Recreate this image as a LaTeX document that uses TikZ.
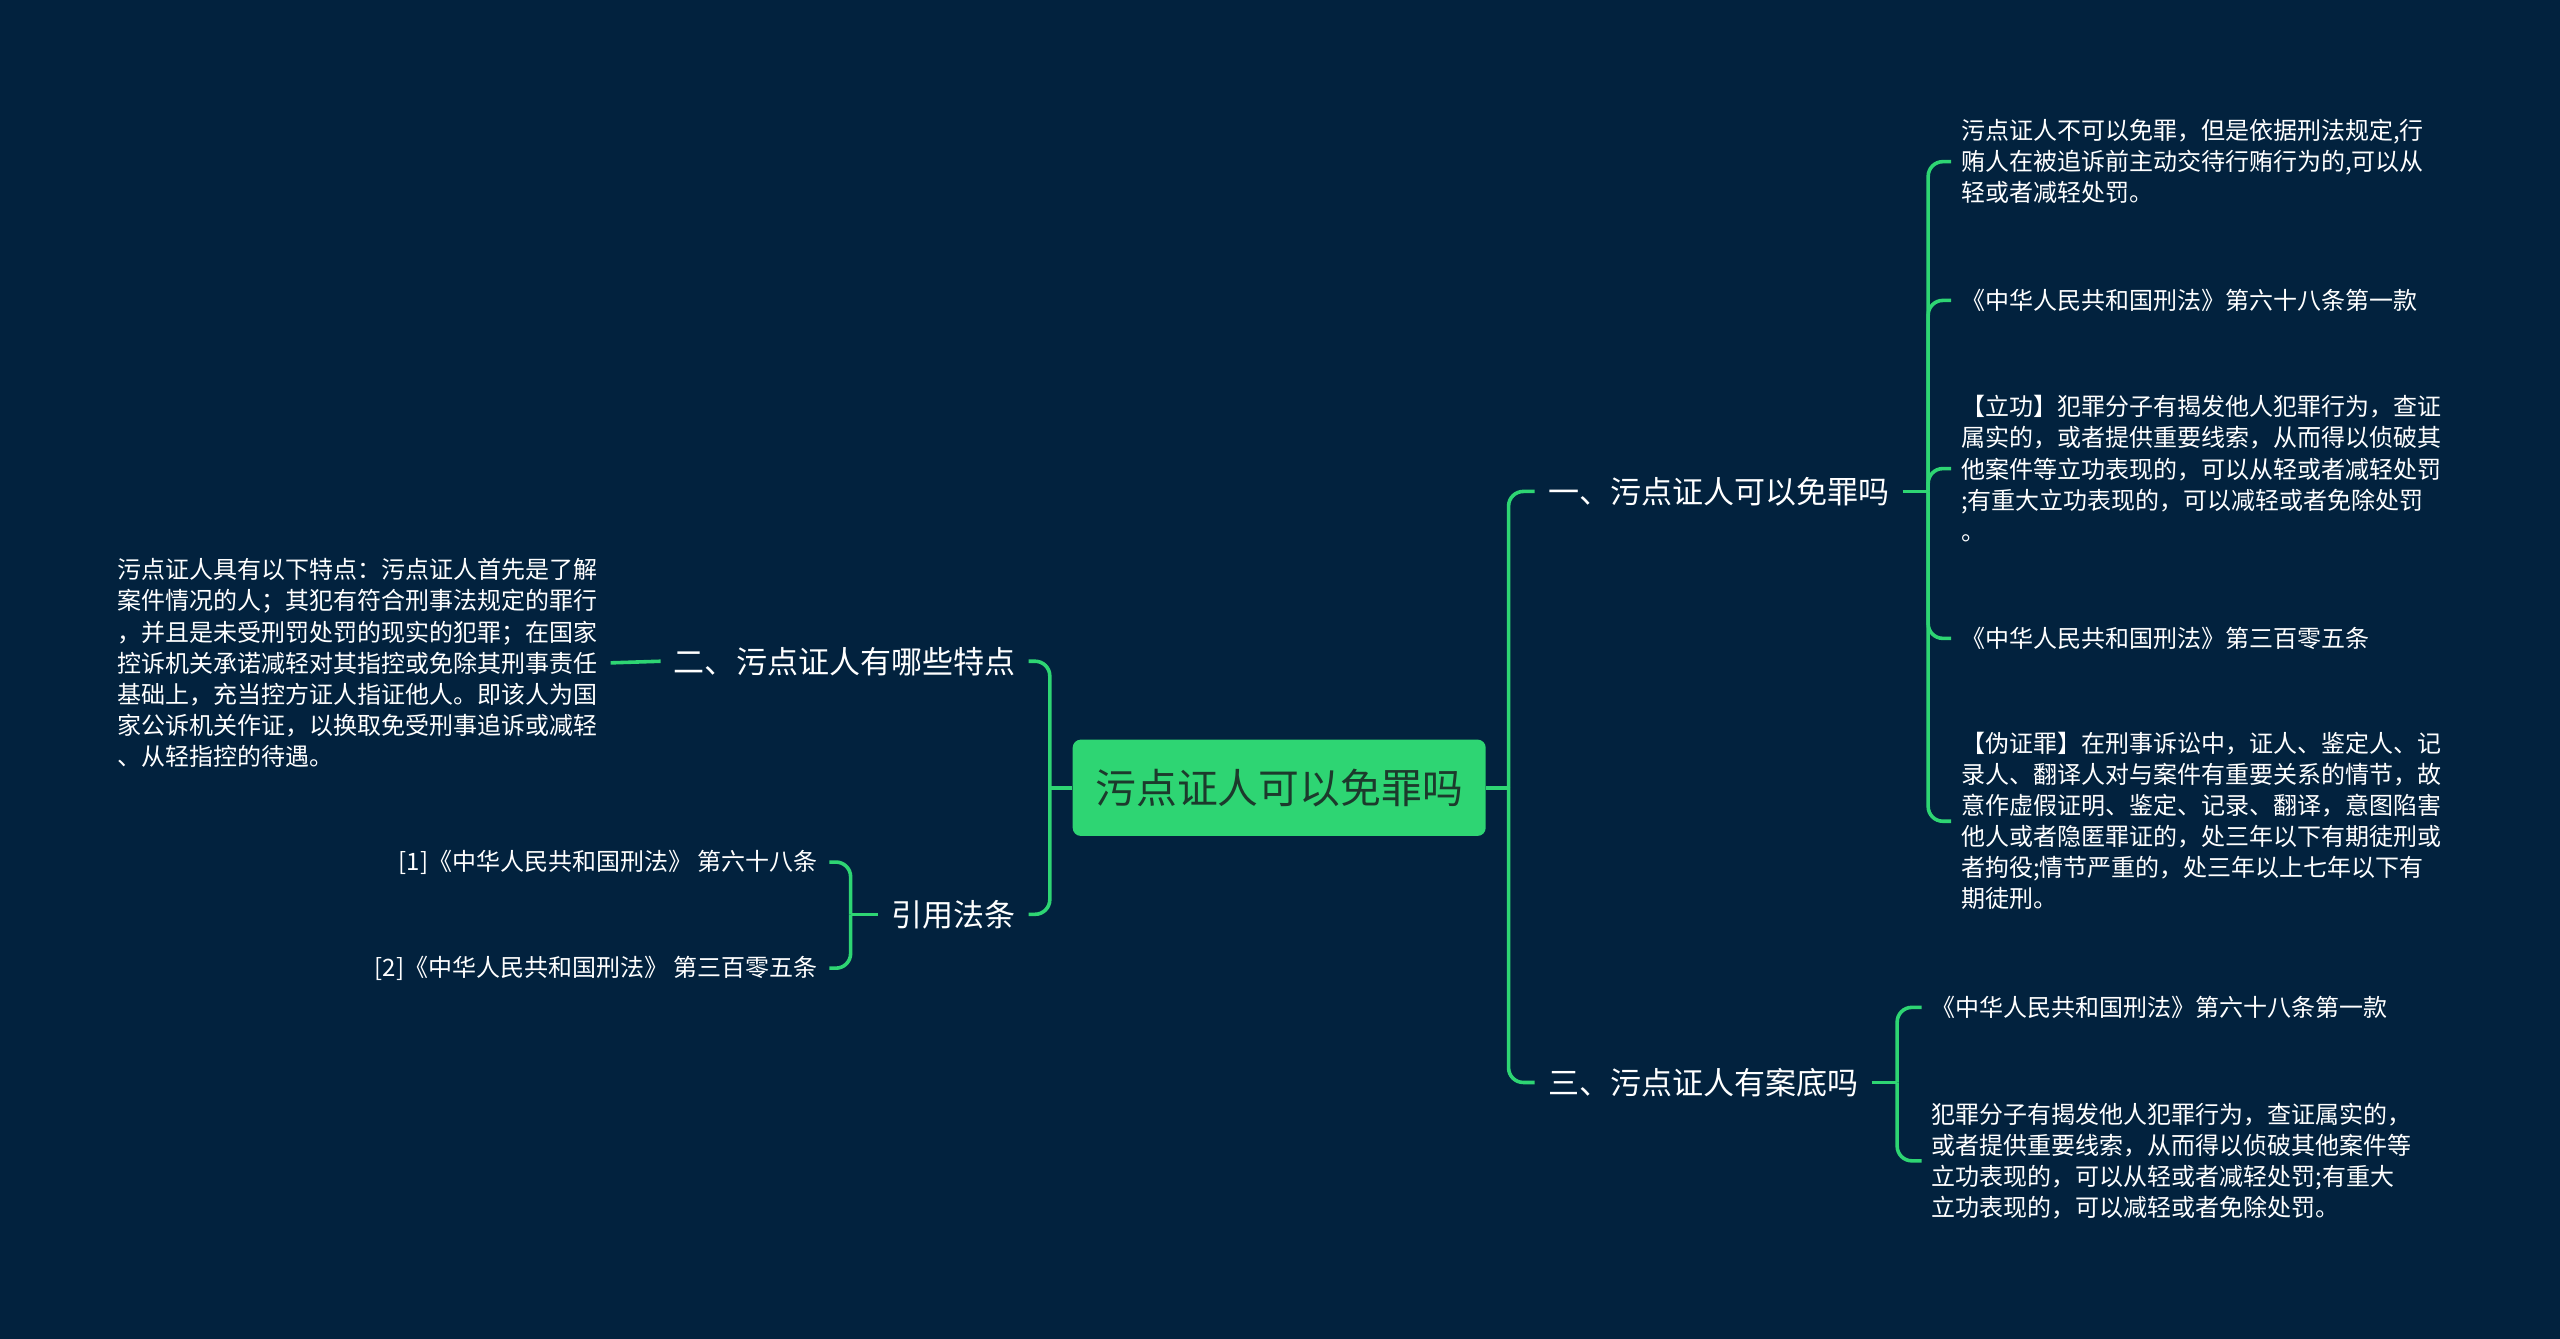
\documentclass[tikz,border=0pt]{standalone}
\usepackage{fontspec}
\setmainfont{Noto Sans CJK SC}
\definecolor{bg}{HTML}{02223E}
\definecolor{gr}{HTML}{2ED573}
\definecolor{roottxt}{HTML}{1C3A2C}
\begin{document}
\begin{tikzpicture}[x=1pt,y=-1pt,
 conn/.style={draw=gr,line width=2.2pt,rounded corners=9pt},
 rootbox/.style={fill=gr,rounded corners=5pt,minimum width=253pt,minimum height=59pt,text=roottxt,font=\fontsize{25pt}{30pt}\selectfont,inner sep=0pt},
 lvone/.style={text=white,font=\fontsize{19pt}{23pt}\selectfont,inner xsep=8pt,inner ysep=3pt},
 leaf/.style={text=white,font=\fontsize{14.7pt}{19pt}\selectfont,align=left,inner xsep=6pt,inner ysep=2pt}]
\fill[bg] (0,0) rectangle (1568,820);
\useasboundingbox (0,0) rectangle (1568,820);

\node[rootbox] (root) at (783.5,482.5) {污点证人可以免罪吗};

% level one
\node[lvone,anchor=west] (one) at (940,301) {一、污点证人可以免罪吗};
\node[lvone,anchor=west] (three) at (940,663) {三、污点证人有案底吗};
\node[lvone,anchor=east] (two) at (630,405) {二、污点证人有哪些特点};
\node[lvone,anchor=east] (cite) at (630,560) {引用法条};

% children of one
\node[leaf,anchor=west] (c11) at (1195,99) {污点证人不可以免罪，但是依据刑法规定,行\\贿人在被追诉前主动交待行贿行为的,可以从\\轻或者减轻处罚。};
\node[leaf,anchor=west] (c12) at (1195,184) {《中华人民共和国刑法》第六十八条第一款};
\node[leaf,anchor=west] (c13) at (1195,287) {【立功】犯罪分子有揭发他人犯罪行为，查证\\属实的，或者提供重要线索，从而得以侦破其\\他案件等立功表现的，可以从轻或者减轻处罚\\;有重大立功表现的，可以减轻或者免除处罚\\。};
\node[leaf,anchor=west] (c14) at (1195,391) {《中华人民共和国刑法》第三百零五条};
\node[leaf,anchor=west] (c15) at (1195,503) {【伪证罪】在刑事诉讼中，证人、鉴定人、记\\录人、翻译人对与案件有重要关系的情节，故\\意作虚假证明、鉴定、记录、翻译，意图陷害\\他人或者隐匿罪证的，处三年以下有期徒刑或\\者拘役;情节严重的，处三年以上七年以下有\\期徒刑。};

% children of three
\node[leaf,anchor=west] (c31) at (1177,617) {《中华人民共和国刑法》第六十八条第一款};
\node[leaf,anchor=west] (c32) at (1177,711) {犯罪分子有揭发他人犯罪行为，查证属实的，\\或者提供重要线索，从而得以侦破其他案件等\\立功表现的，可以从轻或者减轻处罚;有重大\\立功表现的，可以减轻或者免除处罚。};

% child of two
\node[leaf,anchor=east,inner xsep=8pt] (l2) at (374,406) {污点证人具有以下特点：污点证人首先是了解\\案件情况的人；其犯有符合刑事法规定的罪行\\，并且是未受刑罚处罚的现实的犯罪；在国家\\控诉机关承诺减轻对其指控或免除其刑事责任\\基础上，充当控方证人指证他人。即该人为国\\家公诉机关作证，以换取免受刑事追诉或减轻\\、从轻指控的待遇。};

% children of cite
\node[leaf,anchor=east,align=right,inner xsep=7pt] (r1) at (508,528) {[1]《中华人民共和国刑法》 第六十八条};
\node[leaf,anchor=east,align=right,inner xsep=7pt] (r2) at (508,593) {[2]《中华人民共和国刑法》 第三百零五条};

% junctions
\coordinate (bR) at (924,482.5);
\coordinate (bL) at (643,482.5);
\coordinate (b1) at (1181,301);
\coordinate (b3) at (1162,663);
\coordinate (bC) at (521,560);

% connectors
\draw[conn] (root.east) -- (bR);
\draw[conn] (bR) |- (one.west);
\draw[conn] (bR) |- (three.west);
\draw[conn] (root.west) -- (bL);
\draw[conn] (bL) |- (two.east);
\draw[conn] (bL) |- (cite.east);

\draw[conn] (one.east) -- (b1);
\draw[conn] (b1) |- (c11.west);
\draw[conn] (b1) |- (c12.west);
\draw[conn] (b1) |- (c13.west);
\draw[conn] (b1) |- (c14.west);
\draw[conn] (b1) |- (c15.west);

\draw[conn] (three.east) -- (b3);
\draw[conn] (b3) |- (c31.west);
\draw[conn] (b3) |- (c32.west);

\draw[conn] (two.west) -- (l2.east);

\draw[conn] (cite.west) -- (bC);
\draw[conn] (bC) |- (r1.east);
\draw[conn] (bC) |- (r2.east);
\end{tikzpicture}
\end{document}
